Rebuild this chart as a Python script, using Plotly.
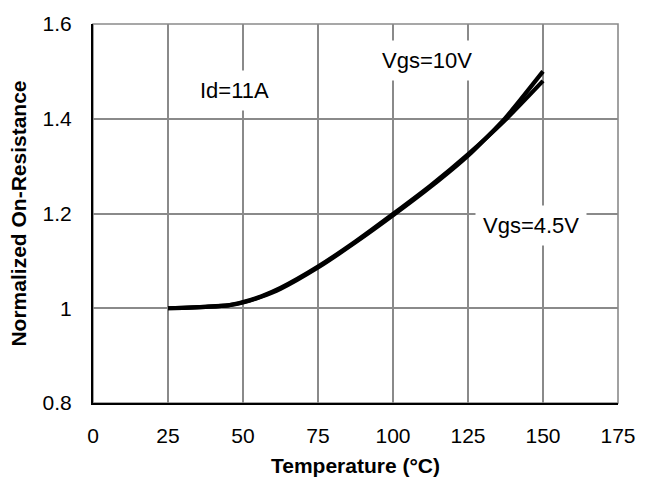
import plotly.graph_objects as go

# Normalized on-resistance vs. junction temperature, Id = 11 A
temperature = [25, 30, 37.5, 45, 50, 56, 62.5, 75, 87.5, 100, 112.5, 125, 137.5, 150]
rds_vgs10 = [1.000, 1.001, 1.003, 1.006, 1.012, 1.024, 1.041, 1.086, 1.139, 1.196, 1.256, 1.322, 1.402, 1.500]
rds_vgs45 = [1.000, 1.001, 1.003, 1.006, 1.013, 1.025, 1.043, 1.088, 1.141, 1.199, 1.259, 1.325, 1.398, 1.480]

x_ticks = [0, 25, 50, 75, 100, 125, 150, 175]
y_ticks = [0.8, 1.0, 1.2, 1.4, 1.6]
y_tick_text = ["0.8", "1", "1.2", "1.4", "1.6"]

FONT = "Arial, Liberation Sans, sans-serif"
GRID = "#8a8a8a"

fig = go.Figure()
for name, vals in (("Vgs=4.5V", rds_vgs45), ("Vgs=10V", rds_vgs10)):
    fig.add_trace(go.Scatter(
        x=temperature, y=vals, name=name, mode="lines",
        line=dict(color="black", width=4.2, shape="spline", smoothing=0.6),
    ))

# gray frame on top/right, black axis lines on left/bottom
fig.add_shape(type="rect", xref="x domain", yref="y domain",
              x0=0, x1=1, y0=0, y1=1, line=dict(color=GRID, width=1.6),
              layer="below")

labels = [
    ("Id=11A", 47.2, 1.459),
    ("Vgs=10V", 111.2, 1.524),
    ("Vgs=4.5V", 145.9, 1.174),
]
for text, x, y in labels:
    fig.add_annotation(x=x, y=y, text=text, showarrow=False,
                       font=dict(family=FONT, size=22, color="black"),
                       bgcolor="white", borderpad=7)

fig.update_layout(
    width=648, height=486,
    margin=dict(l=93, r=30, t=17, b=83),
    paper_bgcolor="white", plot_bgcolor="white",
    showlegend=False,
    font=dict(family=FONT, color="black"),
)
fig.update_xaxes(
    range=[0, 175], tickvals=x_ticks, ticks="", ticklabelstandoff=13,
    tickfont=dict(size=21), showgrid=True, gridcolor=GRID, gridwidth=1.6,
    showline=True, linecolor="black", linewidth=2, zeroline=False,
    title=dict(text="<b>Temperature (°C)</b>", font=dict(size=21), standoff=12),
)
fig.update_yaxes(
    range=[0.8, 1.6], tickvals=y_ticks, ticktext=y_tick_text, ticks="",
    ticklabelstandoff=15, tickfont=dict(size=21), showgrid=True,
    gridcolor=GRID, gridwidth=1.6, showline=True, linecolor="black",
    linewidth=2, zeroline=False,
    title=dict(text="<b>Normalized On-Resistance</b>", font=dict(size=21), standoff=10),
)

fig.write_html("out.html")
